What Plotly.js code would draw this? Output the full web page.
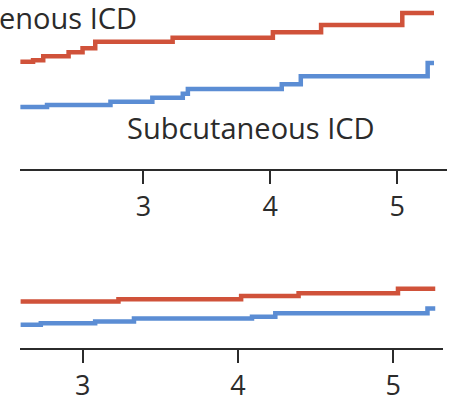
<!DOCTYPE html>
<html>
<head>
<meta charset="utf-8">
<script src="https://cdn.plot.ly/plotly-3.0.1.min.js"></script>
<style>html,body{margin:0;padding:0;background:#fff;}#chart{width:454px;height:398px;}</style>
</head>
<body>
<div id="chart"></div>
<script>
// Years since randomization (step times) and cumulative incidence (%)
// Upper panel (inset, enlarged scale)
const topRedT = [2.03, 2.13, 2.21, 2.41, 2.52, 2.62, 3.23, 4.02, 4.40, 5.04, 5.29];
const topRedY = [13.4, 13.6, 14.1, 14.6, 15.1, 15.9, 16.4, 17.1, 18.0, 19.5, 19.5];
const topBlueT = [2.03, 2.24, 2.74, 3.07, 3.31, 3.35, 4.09, 4.24, 5.24, 5.29];
const topBlueY = [7.75, 8.0, 8.4, 8.9, 9.4, 10.0, 10.6, 11.6, 13.25, 13.25];
// Lower panel (main plot scale)
const botRedT = [2.60, 3.23, 4.02, 4.39, 5.03, 5.27];
const botRedY = [5.8, 6.1, 6.5, 6.85, 7.4, 7.4];
const botBlueT = [2.60, 2.73, 3.08, 3.33, 4.09, 4.24, 5.22, 5.27];
const botBlueY = [2.9, 3.1, 3.3, 3.7, 3.9, 4.35, 4.95, 4.95];
const tickVals = [2, 3, 4, 5];
const tickText = ['2', '3', '4', '5'];
const labelTransvenous = 'Transvenous ICD';
const labelSubcutaneous = 'Subcutaneous ICD';

const RED = '#d0523a';
const BLUE = '#5b8dd4';
const INK = '#2b2b2b';
const FONT = '"Open Sans", Lato, sans-serif';
const W = 454, H = 398;

function step(x, y, color, xa, ya) {
  return {x: x, y: y, type: 'scatter', mode: 'lines', xaxis: xa, yaxis: ya,
    line: {shape: 'hv', color: color, width: 4.5}, hoverinfo: 'skip', showlegend: false};
}

const data = [
  step(topRedT, topRedY, RED, 'x', 'y'),
  step(topBlueT, topBlueY, BLUE, 'x', 'y'),
  step(botRedT, botRedY, RED, 'x2', 'y2'),
  step(botBlueT, botBlueY, BLUE, 'x2', 'y2')
];

const xcommon = {
  showgrid: false, zeroline: false, showline: true, linecolor: INK, linewidth: 2,
  ticks: 'outside', ticklen: 13, tickwidth: 2, tickcolor: INK,
  tickvals: tickVals, ticktext: tickText,
  tickfont: {family: FONT, size: 27, color: INK}
};
const ycommon = {visible: false, showgrid: false, zeroline: false, fixedrange: true};

const layout = {
  width: W, height: H,
  margin: {l: 0, r: 0, t: 0, b: 0, pad: 0},
  paper_bgcolor: '#fff', plot_bgcolor: '#fff',
  showlegend: false,
  xaxis: Object.assign({}, xcommon, {domain: [20 / W, 446.7 / W], range: [2.027, 5.39], anchor: 'y'}),
  yaxis: Object.assign({}, ycommon, {domain: [(H - 169) / H, 1], range: [0, 169 / 8], anchor: 'x'}),
  xaxis2: Object.assign({}, xcommon, {domain: [20 / W, 442.7 / W], range: [2.596, 5.318], anchor: 'y2'}),
  yaxis2: Object.assign({}, ycommon, {domain: [(H - 348) / H, (H - 240) / H], range: [0, 108 / 8], anchor: 'x2'}),
  annotations: [
    {text: labelTransvenous, xref: 'paper', yref: 'paper', x: 139 / W, y: (H - 18) / H,
      xanchor: 'right', yanchor: 'middle', showarrow: false,
      font: {family: FONT, size: 29, color: INK}},
    {text: labelSubcutaneous, xref: 'paper', yref: 'paper', x: 251 / W, y: (H - 127) / H,
      xanchor: 'center', yanchor: 'middle', showarrow: false,
      font: {family: FONT, size: 29, color: INK}}
  ]
};

Plotly.newPlot('chart', data, layout, {displayModeBar: false, staticPlot: true});
</script>
</body>
</html>
